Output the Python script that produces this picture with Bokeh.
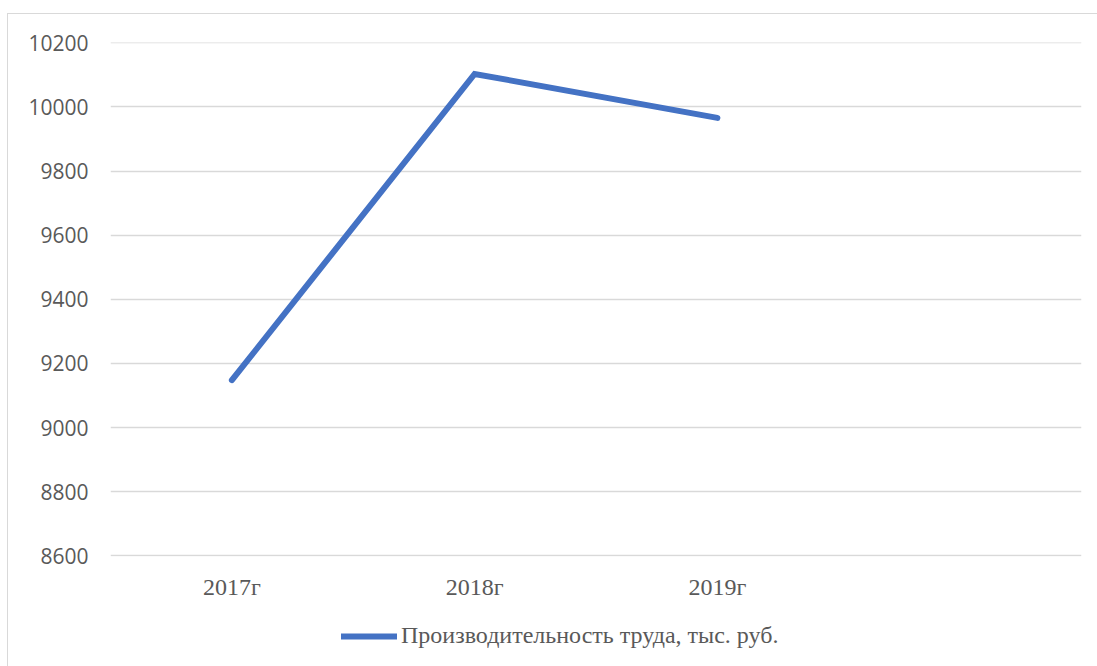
from bokeh.plotting import figure
from bokeh.layouts import column
from bokeh.models import Range1d, FactorRange, FixedTicker, Legend, LegendItem
from bokeh.embed import file_html
from bokeh.resources import INLINE

categories = ["2017г", "2018г", "2019г", " "]
years = ["2017г", "2018г", "2019г"]
productivity = [9148, 10103, 9966]
y_ticks = [8600, 8800, 9000, 9200, 9400, 9600, 9800, 10000, 10200]
series_name = "Производительность труда, тыс. руб."
line_color = "#4472C4"

p = figure(width=1089, height=600, x_range=FactorRange(*categories),
           y_range=Range1d(8598, 10201), output_backend="svg",
           toolbar_location=None, min_border_left=102, min_border_right=16,
           min_border_top=28, min_border_bottom=58)
p.outline_line_color = None
p.background_fill_color = "white"
p.border_fill_color = "white"

r = p.line(years, productivity, line_color=line_color, line_width=6,
           line_cap="round", line_join="miter")

p.xgrid.grid_line_color = None
p.ygrid.grid_line_color = "#d9d9d9"
p.ygrid.grid_line_width = 1.3
p.yaxis.ticker = FixedTicker(ticks=y_ticks)

for ax in (p.xaxis[0], p.yaxis[0]):
    ax.axis_line_color = None
    ax.major_tick_line_color = None
    ax.minor_tick_line_color = None
    ax.major_tick_out = 0
    ax.major_tick_in = 0
    ax.major_label_text_color = "#595959"

p.yaxis.major_label_text_font = "Open Sans"
p.yaxis.major_label_text_font_size = "21px"
p.yaxis.major_label_standoff = 22
p.xaxis.major_label_text_font = "Liberation Serif"
p.xaxis.major_label_text_font_size = "24px"
p.xaxis.major_label_standoff = 17

# legend strip below the chart (its series line lies outside the visible range)
p2 = figure(width=1089, height=52, output_backend="svg", toolbar_location=None,
            x_axis_type=None, y_axis_type=None, min_border=0,
            x_range=Range1d(0, 1), y_range=Range1d(0, 1))
p2.outline_line_color = None
p2.grid.grid_line_color = None
p2.background_fill_color = "white"
p2.border_fill_color = "white"
r2 = p2.line(x=[-5, -4], y=[-5, -4], line_color=line_color, line_width=6,
             line_cap="round")

legend = Legend(items=[LegendItem(label=series_name, renderers=[r2])],
                location=(231, 17), orientation="horizontal",
                border_line_color=None, background_fill_alpha=0,
                padding=0, margin=0, glyph_width=56, glyph_height=20,
                label_standoff=4, label_text_font="Liberation Serif",
                label_text_font_size="24px", label_text_color="#595959")
p2.add_layout(legend, "center")

layout = column(p, p2, spacing=0)
layout.margin = (13, 0, 0, 7)
layout.styles = {"border-left": "1px solid #d9d9d9", "border-top": "1px solid #d9d9d9"}

open("out.html", "w").write(file_html(layout, INLINE))
